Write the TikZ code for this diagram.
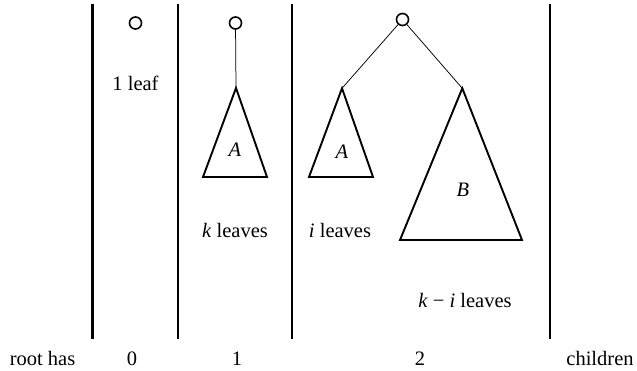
\documentclass[tikz,border=0pt]{standalone}
\usepackage{fontspec}
\setmainfont{Liberation Serif}
\begin{document}
\begin{tikzpicture}[x=1pt,y=-1pt,
  divider/.style={line width=2.2pt},
  rootnode/.style={circle,draw,line width=1.6pt,minimum size=12pt,inner sep=0pt},
  subtree/.style={line width=1.9pt,line join=miter},
  edge/.style={line width=0.75pt},
  lbl/.style={inner sep=0pt,anchor=base,font=\fontsize{20.5}{24}\selectfont}]
\useasboundingbox (0,0) rectangle (637,371);
% dividers
\coordinate (d1t) at (92.5,4);  \coordinate (d1b) at (92.5,339);
\coordinate (d2t) at (178,4);   \coordinate (d2b) at (178,339);
\coordinate (d3t) at (292,4);   \coordinate (d3b) at (292,339);
\coordinate (d4t) at (550,4);   \coordinate (d4b) at (550,339);
\draw[divider] (d1t) -- (d1b);
\draw[divider] (d2t) -- (d2b);
\draw[divider] (d3t) -- (d3b);
\draw[divider] (d4t) -- (d4b);
% column 0
\node[rootnode] (r0) at (135.5,23) {};
\node[lbl] (l0) at (135.5,91) {1 leaf};
% column 1
\node[rootnode] (r1) at (235.5,23) {};
\coordinate (a1) at (236,88);
\coordinate (a1l) at (203,177);
\coordinate (a1r) at (267,177);
\draw[edge] (r1) -- (a1);
\draw[subtree] (a1) -- (a1l) -- (a1r) -- cycle;
\node[lbl] (A1) at (235,157) {\textit{A}};
\node[lbl] (k1) at (235,238) {\textit{k} leaves};
% column 2
\node[rootnode] (r2) at (402.5,19.5) {};
\coordinate (a2) at (342,88.3);
\coordinate (a2l) at (309,177);
\coordinate (a2r) at (373,177);
\coordinate (b2) at (462.3,88.3);
\coordinate (b2l) at (400,240);
\coordinate (b2r) at (522,240);
\draw[edge] (r2) -- (a2);
\draw[edge] (r2) -- (b2);
\draw[subtree] (a2) -- (a2l) -- (a2r) -- cycle;
\draw[subtree] (b2) -- (b2l) -- (b2r) -- cycle;
\node[lbl] (A2) at (342,159) {\textit{A}};
\node[lbl] (B2) at (463,197) {\textit{B}};
\node[lbl] (i2) at (340,238) {\textit{i} leaves};
\node[lbl] (ki2) at (465,308) {\textit{k} − \textit{i} leaves};
% bottom row
\node[lbl] (rh) at (42.5,365) {root has};
\node[lbl] (n0) at (132,365) {0};
\node[lbl] (n1) at (237,365) {1};
\node[lbl] (n2) at (420,365) {2};
\node[lbl] (ch) at (600,365) {children};
\end{tikzpicture}
\end{document}
